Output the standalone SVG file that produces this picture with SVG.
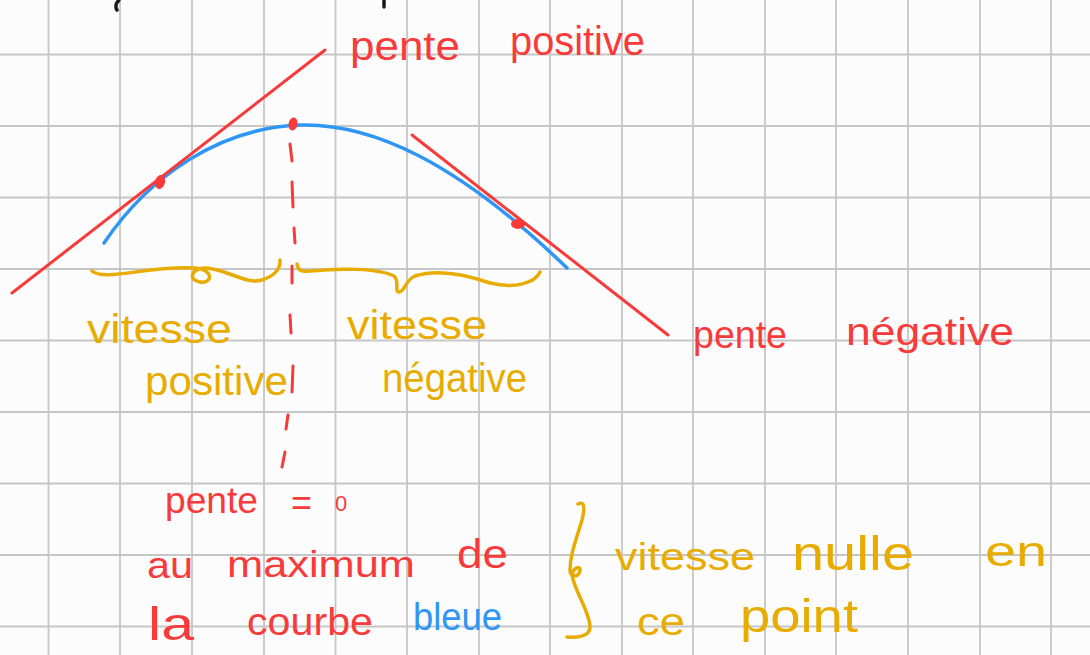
<svg xmlns="http://www.w3.org/2000/svg" width="1090" height="655" viewBox="0 0 1090 655">
<style>
.grid line{stroke:#c6c6c6;stroke-width:1.8}
.red{stroke:#f93a3a;stroke-width:3;fill:none;stroke-linecap:round}
.blue{stroke:#2f96f5;stroke-width:3.5;fill:none;stroke-linecap:round}
.yel{stroke:#e8ac00;stroke-width:3.5;fill:none;stroke-linecap:round;stroke-linejoin:round}
.ink{stroke:#1a1a1a;stroke-width:3.5;fill:none;stroke-linecap:round}
.dot{fill:#f93a3a}
text{font-family:"Liberation Sans","DejaVu Sans",sans-serif}
.tr{fill:#f93a3a}
.ty{fill:#e8ac00}
.tb{fill:#2f96f5}
</style>
<rect width="1090" height="655" fill="#fcfcfc"/>
<g class="grid" id="grid">
<line x1="48.5" y1="0" x2="48.5" y2="655"/>
<line x1="120" y1="0" x2="120" y2="655"/>
<line x1="192" y1="0" x2="192" y2="655"/>
<line x1="264" y1="0" x2="264" y2="655"/>
<line x1="335.5" y1="0" x2="335.5" y2="655"/>
<line x1="407" y1="0" x2="407" y2="655"/>
<line x1="479" y1="0" x2="479" y2="655"/>
<line x1="550" y1="0" x2="550" y2="655"/>
<line x1="622" y1="0" x2="622" y2="655"/>
<line x1="693" y1="0" x2="693" y2="655"/>
<line x1="765" y1="0" x2="765" y2="655"/>
<line x1="836" y1="0" x2="836" y2="655"/>
<line x1="908" y1="0" x2="908" y2="655"/>
<line x1="980" y1="0" x2="980" y2="655"/>
<line x1="1051" y1="0" x2="1051" y2="655"/>
<line x1="0" y1="54.5" x2="1090" y2="54.5"/>
<line x1="0" y1="126" x2="1090" y2="126"/>
<line x1="0" y1="197.5" x2="1090" y2="197.5"/>
<line x1="0" y1="269" x2="1090" y2="269"/>
<line x1="0" y1="340.5" x2="1090" y2="340.5"/>
<line x1="0" y1="412" x2="1090" y2="412"/>
<line x1="0" y1="483.5" x2="1090" y2="483.5"/>
<line x1="0" y1="555" x2="1090" y2="555"/>
<line x1="0" y1="626.5" x2="1090" y2="626.5"/>
</g>
<g id="top-fragments">
<path class="ink" d="M119,0 Q114,5 117,10"/>
<path class="ink" d="M384,0 L384,7"/>
</g>
<g id="curve">
<path class="blue" d="M104,243 C150,175 220,128 300,125 C370,123 455,160 567,268"/>
</g>
<g id="tangents">
<line class="red" x1="12" y1="293" x2="325" y2="50"/>
<line class="red" x1="412" y1="135" x2="668" y2="335"/>
<ellipse class="dot" cx="160" cy="182" rx="5" ry="7" transform="rotate(15 160 182)"/>
<ellipse class="dot" cx="293" cy="124" rx="4.5" ry="6.5" transform="rotate(10 293 124)"/>
<ellipse class="dot" cx="518" cy="224" rx="7" ry="5"/>
</g>
<g id="dashes" class="red">
<path d="M290,144 L292,161"/>
<path d="M292,182 L293,207"/>
<path d="M294,228 L295,243"/>
<path d="M292,266 L292,283"/>
<path d="M290,315 L291,333"/>
<path d="M293,366 L292,392"/>
<path d="M288,415 L286,429"/>
<path d="M285,452 L282,467"/>
</g>
<g id="braces" class="yel">
<path d="M92,271 C105,282 150,265 195,268 C215,270 212,284 200,282 C187,280 192,268 205,268 C225,268 245,285 262,280 C272,277 281,270 280,260"/>
<path d="M297,264 C298,270 300,272 310,271 C340,268 378,268 394,276 C400,281 394,292 399,292 C405,292 405,280 415,276 C440,268 470,276 490,283 C515,289 535,283 540,272"/>
<path d="M578,504 C586,500 584,512 582,520 C576,540 570,555 570,570 C570,577 578,578 580,571 C581,566 574,566 572,575 C574,590 590,612 590,627 C590,637 575,638 567,637"/>
</g>
<g id="label-pente-positive">
<text class="tr" font-size="40"><tspan x="350" y="60" textLength="110" lengthAdjust="spacingAndGlyphs">pente</tspan><tspan x="510" y="55" textLength="135" lengthAdjust="spacingAndGlyphs">positive</tspan></text>
</g>
<g id="label-pente-negative">
<text class="tr" font-size="38"><tspan x="693" y="348" textLength="94" lengthAdjust="spacingAndGlyphs">pente</tspan><tspan x="846" y="345" textLength="168" lengthAdjust="spacingAndGlyphs">négative</tspan></text>
</g>
<g id="label-vitesse-positive">
<text class="ty" font-size="40"><tspan x="87" y="343" textLength="145" lengthAdjust="spacingAndGlyphs">vitesse</tspan><tspan x="145" y="395" textLength="143" lengthAdjust="spacingAndGlyphs">positive</tspan></text>
</g>
<g id="label-vitesse-negative">
<text class="ty" font-size="40"><tspan x="347" y="339" textLength="140" lengthAdjust="spacingAndGlyphs">vitesse</tspan><tspan x="382" y="392" textLength="145" lengthAdjust="spacingAndGlyphs">négative</tspan></text>
</g>
<g id="label-pente-zero">
<text class="tr" font-size="36"><tspan x="165" y="513" textLength="93" lengthAdjust="spacingAndGlyphs">pente</tspan><tspan x="291" y="515">=</tspan><tspan x="335" y="511" font-size="22">0</tspan></text>
</g>
<g id="label-maximum">
<text class="tr" font-size="37"><tspan x="147" y="578" textLength="46" lengthAdjust="spacingAndGlyphs">au</tspan><tspan x="227" y="577" textLength="188" lengthAdjust="spacingAndGlyphs">maximum</tspan><tspan x="457" y="568" font-size="40" textLength="51" lengthAdjust="spacingAndGlyphs">de</tspan></text>
<text class="tr" font-size="38"><tspan x="148" y="640" font-size="46" textLength="46" lengthAdjust="spacingAndGlyphs">la</tspan><tspan x="247" y="635" textLength="126" lengthAdjust="spacingAndGlyphs">courbe</tspan></text>
<text class="tb" font-size="38" x="413" y="630" textLength="89" lengthAdjust="spacingAndGlyphs">bleue</text>
</g>
<g id="label-vitesse-nulle">
<text class="ty" font-size="38"><tspan x="615" y="570" textLength="140" lengthAdjust="spacingAndGlyphs">vitesse</tspan><tspan x="792" y="570" font-size="48" textLength="122" lengthAdjust="spacingAndGlyphs">nulle</tspan><tspan x="985" y="566" font-size="42" textLength="62" lengthAdjust="spacingAndGlyphs">en</tspan></text>
<text class="ty" font-size="38"><tspan x="637" y="635" textLength="48" lengthAdjust="spacingAndGlyphs">ce</tspan><tspan x="740" y="632" font-size="46" textLength="118" lengthAdjust="spacingAndGlyphs">point</tspan></text>
</g>
</svg>
